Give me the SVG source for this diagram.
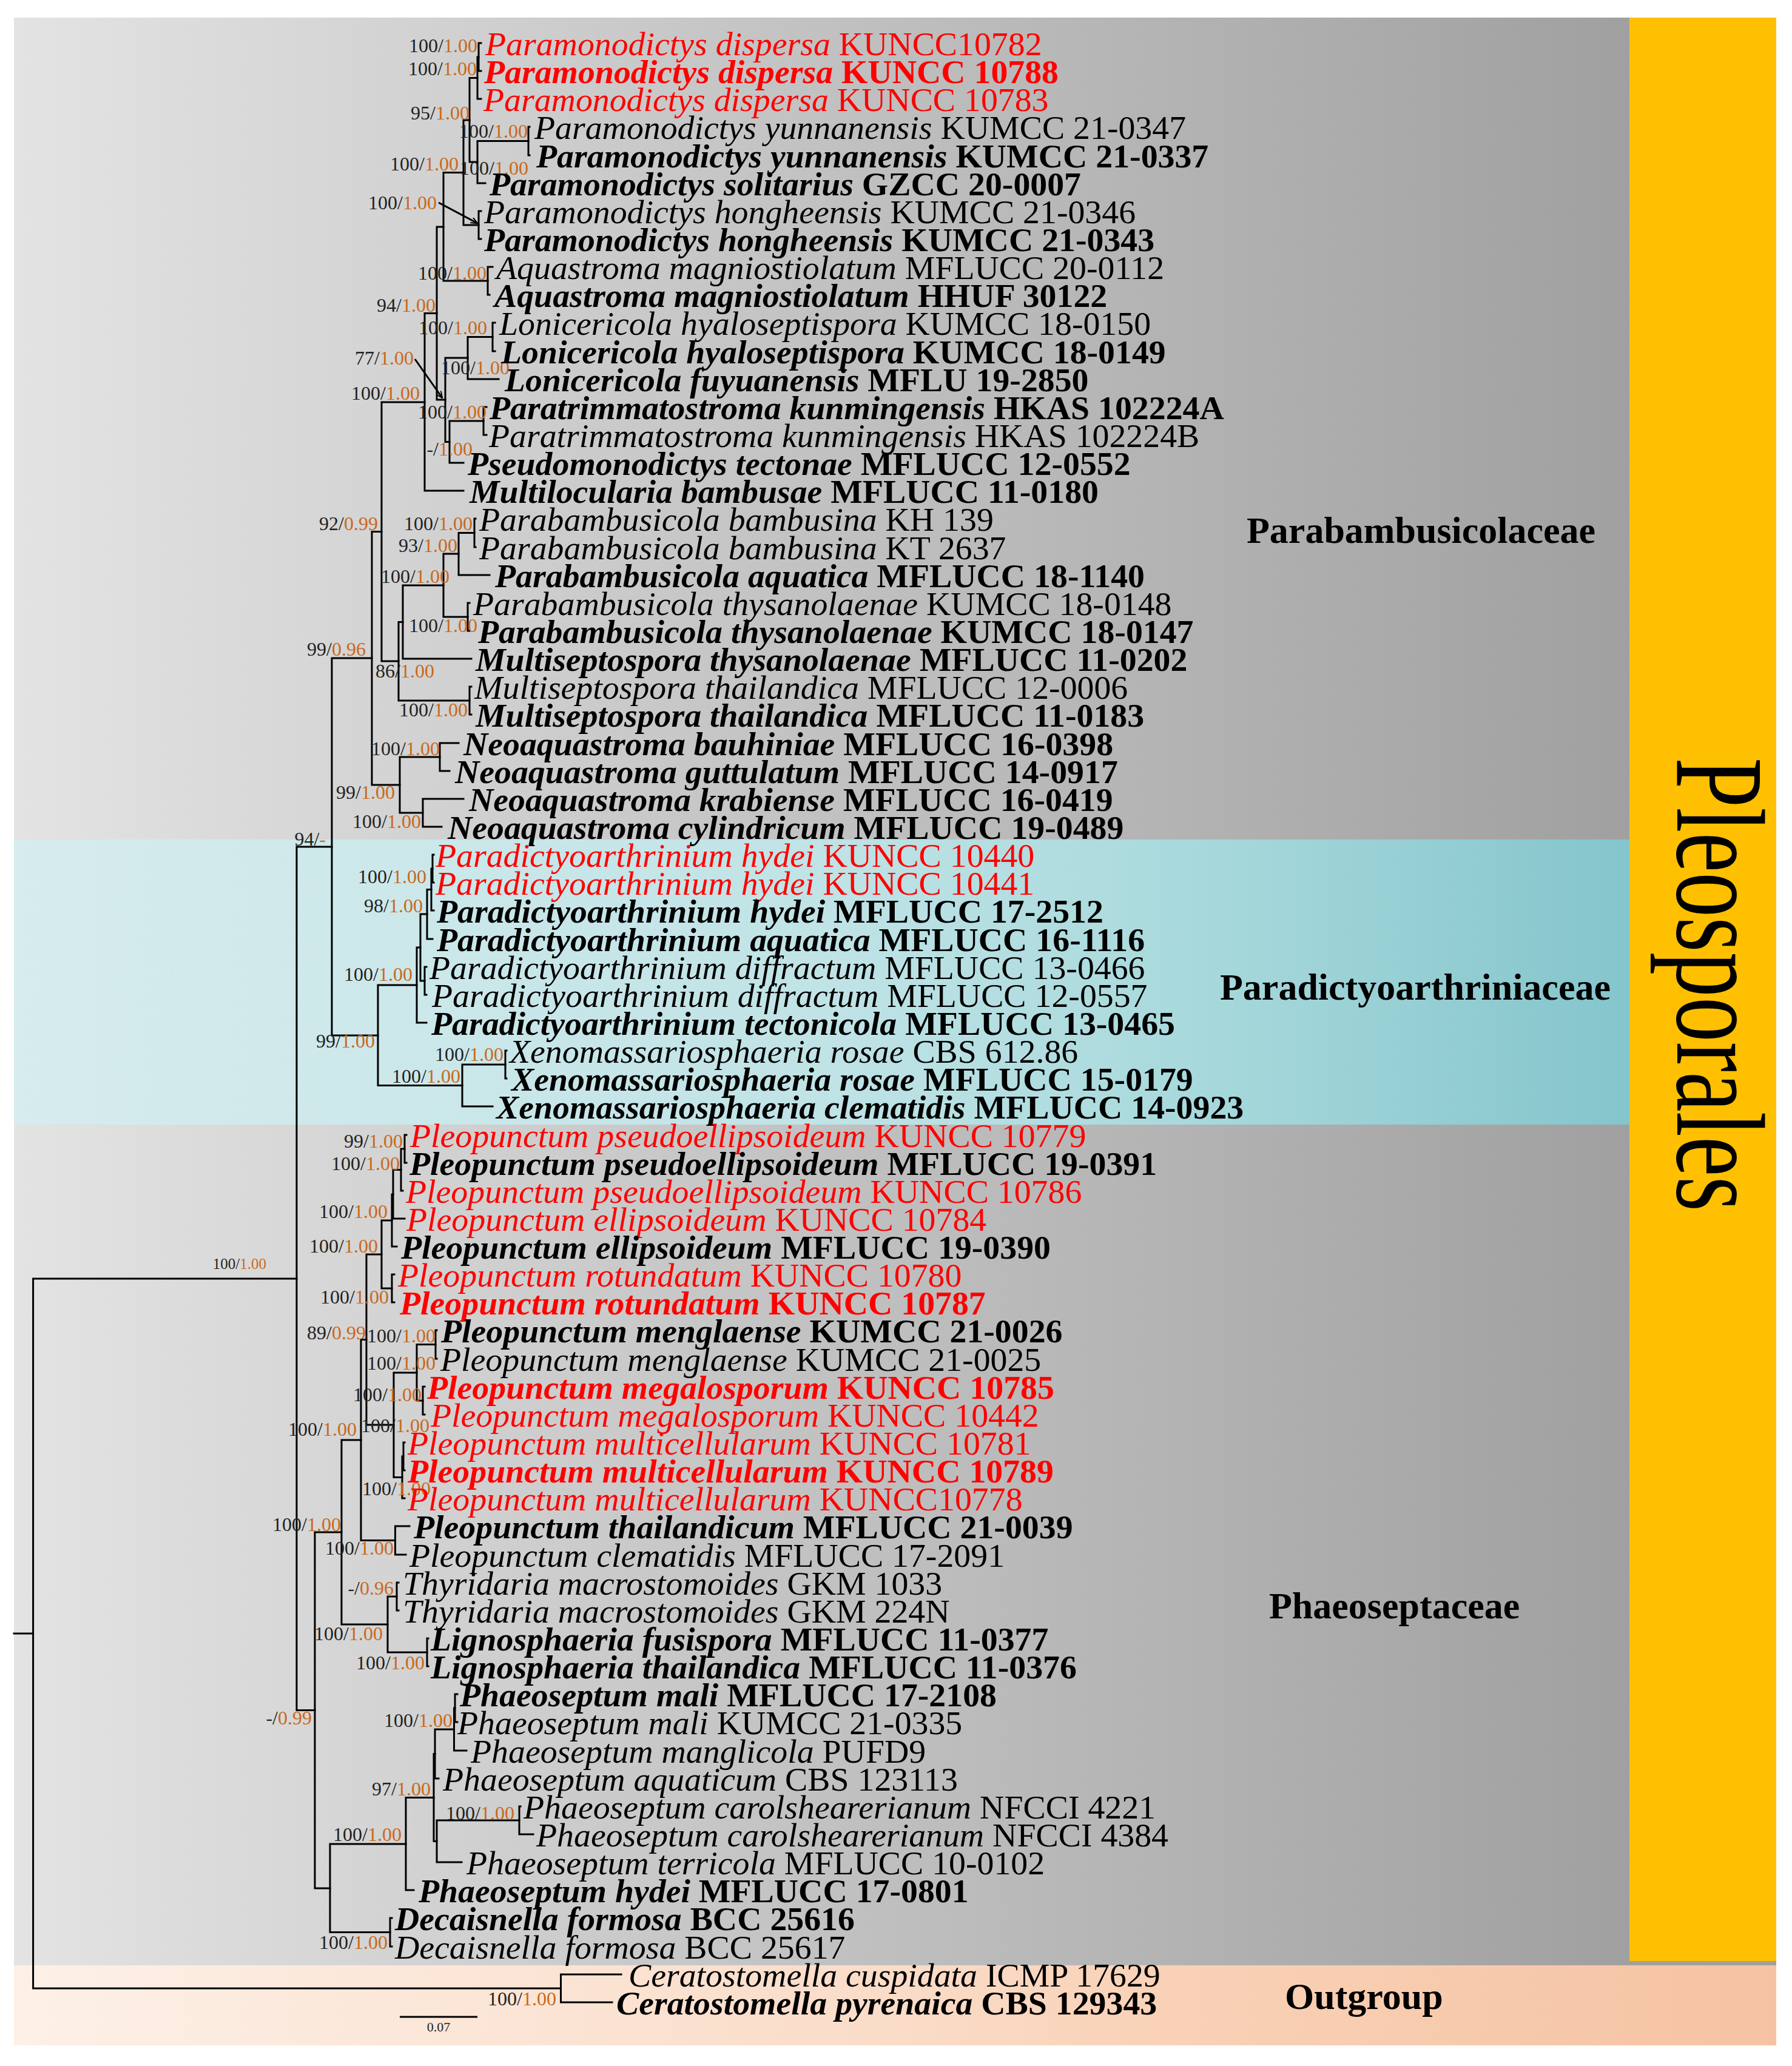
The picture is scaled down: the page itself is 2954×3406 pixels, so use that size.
<svg xmlns="http://www.w3.org/2000/svg" width="2954" height="3406" viewBox="0 0 2954 3406">
<defs>
<linearGradient id="gGray" gradientUnits="userSpaceOnUse" x1="23" y1="0" x2="2686" y2="0"><stop offset="0" stop-color="#e3e3e3"/><stop offset="1" stop-color="#a0a0a0"/></linearGradient>
<linearGradient id="gCyan" gradientUnits="userSpaceOnUse" x1="23" y1="0" x2="2686" y2="0"><stop offset="0" stop-color="#d7ecee"/><stop offset="0.5" stop-color="#c0e3e6"/><stop offset="0.73" stop-color="#a8d9dc"/><stop offset="1" stop-color="#84c5cc"/></linearGradient>
<linearGradient id="gPeach" gradientUnits="userSpaceOnUse" x1="23" y1="0" x2="2928" y2="0"><stop offset="0" stop-color="#fdf0e7"/><stop offset="0.5" stop-color="#fadcc8"/><stop offset="0.66" stop-color="#f9d1b6"/><stop offset="1" stop-color="#f5c3a3"/></linearGradient>
<marker id="arr" viewBox="0 0 12 10" refX="11" refY="5" markerWidth="12" markerHeight="10" markerUnits="userSpaceOnUse" orient="auto"><path d="M0,0 L11,5 L0,10" fill="none" stroke="#000" stroke-width="2"/></marker>
</defs>
<style>
.br{fill:none;stroke:#000;stroke-width:3;stroke-linecap:square}
.tx{font-family:"Liberation Serif","Times New Roman",serif;font-size:55.8px;fill:#000}
.i{font-style:italic}
.b{font-weight:bold}
.r{fill:#ff0000}
.s{font-family:"Liberation Serif","Times New Roman",serif;font-size:32px;fill:#222;text-anchor:end}
.o{fill:#c8691c}
.fam{font-family:"Liberation Serif","Times New Roman",serif;font-size:62px;font-weight:bold;fill:#000}
</style>
<g id="background">
<rect x="23" y="29" width="2905" height="3211" fill="url(#gGray)"/>
<rect x="23" y="1384" width="2663" height="470" fill="url(#gCyan)"/>
<rect x="23" y="3240" width="2905" height="132" fill="url(#gPeach)"/>
<rect x="2686" y="29" width="242" height="3204" fill="#fec000"/>
</g>
<g id="connectors">
<path class="br" d="M54.6 2108V3278M54.6 2108H489M54.6 3278H924.5M23 2693H54.6"/>
<path class="br" d="M924.5 3255V3301M924.5 3255H1024M924.5 3301H1009"/>
<path class="br" d="M489 1396V2819.5M489 1396H547M489 2819.5H519"/>
<path class="br" d="M547 1085V1707M547 1085H613M547 1707H623"/>
<path class="br" d="M613 876.5V1294M613 876.5H629M613 1294H659"/>
<path class="br" d="M629 663V1090M629 663H700M629 1090H657"/>
<path class="br" d="M700 516.5V809M700 516.5H720M700 809H764"/>
<path class="br" d="M720 374V659M720 374H731M720 659H734"/>
<path class="br" d="M731 284.5V463M731 284.5H764M731 463H804"/>
<path class="br" d="M764 198V371M764 198H774M764 371H789"/>
<path class="br" d="M774 128.5V267M774 128.5H787M774 267H787"/>
<path class="br" d="M787 94V163M787 94H789M787 163H793"/>
<path class="br" d="M789 71V117M789 71H793M789 117H793"/>
<path class="br" d="M787 232.5V302M787 232.5H871M787 302H800"/>
<path class="br" d="M871 209V256M871 209H873M871 256H873"/>
<path class="br" d="M789 348V394M789 348H793M789 394H793"/>
<path class="br" d="M804 440V486M804 440H812M804 486H807"/>
<path class="br" d="M734 590V728.5M734 590H771M734 728.5H741"/>
<path class="br" d="M771 555.5V625M771 555.5H812M771 625H822"/>
<path class="br" d="M812 532V579M812 532H816M812 579H816"/>
<path class="br" d="M741 694V763M741 694H797M741 763H764"/>
<path class="br" d="M797 671V717M797 671H802M797 717H802"/>
<path class="br" d="M657 1025.5V1155M657 1025.5H664M657 1155H774"/>
<path class="br" d="M664 965V1086M664 965H731M664 1086H777"/>
<path class="br" d="M731 913V1017M731 913H756M731 1017H771"/>
<path class="br" d="M756 878.5V948M756 878.5H782M756 948H807"/>
<path class="br" d="M782 855V902M782 855H784M782 902H784"/>
<path class="br" d="M771 994V1040M771 994H774M771 1040H774"/>
<path class="br" d="M774 1132V1178M774 1132H777M774 1178H777"/>
<path class="br" d="M659 1248V1340M659 1248H725M659 1340H697"/>
<path class="br" d="M725 1225V1271M725 1225H756M725 1271H741"/>
<path class="br" d="M697 1317V1363M697 1317H764M697 1363H728"/>
<path class="br" d="M623 1624V1789.5M623 1624H687M623 1789.5H762"/>
<path class="br" d="M687 1562V1686M687 1562H693M687 1686H703"/>
<path class="br" d="M693 1507V1617M693 1507H704M693 1617H700"/>
<path class="br" d="M704 1466.5V1548M704 1466.5H711M704 1548H713"/>
<path class="br" d="M711 1432V1501M711 1432H713M711 1501H715"/>
<path class="br" d="M713 1409V1455M713 1409H715M713 1455H715"/>
<path class="br" d="M700 1594V1640M700 1594H703M700 1640H703"/>
<path class="br" d="M762 1755V1824M762 1755H833M762 1824H812"/>
<path class="br" d="M833 1732V1778M833 1732H835M833 1778H835"/>
<path class="br" d="M519 2526V3113M519 2526H563M519 3113H544"/>
<path class="br" d="M563 2374V2678M563 2374H595M563 2678H639"/>
<path class="br" d="M595 2208.5V2539.5M595 2208.5H604M595 2539.5H651.5"/>
<path class="br" d="M604 2068V2349M604 2068H629M604 2349H649"/>
<path class="br" d="M629 2012V2124M629 2012H646M629 2124H646"/>
<path class="br" d="M646 1969V2055M646 1969H648M646 2055H654"/>
<path class="br" d="M648 1928.5V2009M648 1928.5H661M648 2009H667"/>
<path class="br" d="M661 1894V1963M661 1894H667M661 1963H664"/>
<path class="br" d="M667 1871V1917M667 1871H670M667 1917H670"/>
<path class="br" d="M646 2101V2147M646 2101H650M646 2147H650"/>
<path class="br" d="M649 2263V2435.5M649 2263H687M649 2435.5H663"/>
<path class="br" d="M687 2216.5V2309M687 2216.5H718M687 2309H697"/>
<path class="br" d="M718 2193V2240M718 2193H720M718 2240H720"/>
<path class="br" d="M697 2286V2332M697 2286H700M697 2332H700"/>
<path class="br" d="M663 2401V2470M663 2401H665M663 2470H667"/>
<path class="br" d="M665 2378V2424M665 2378H667M665 2424H667"/>
<path class="br" d="M651.5 2516V2563M651.5 2516H675M651.5 2563H669"/>
<path class="br" d="M639 2632V2724M639 2632H654M639 2724H704"/>
<path class="br" d="M654 2609V2655M654 2609H657M654 2655H657"/>
<path class="br" d="M704 2701V2747M704 2701H706M704 2747H706"/>
<path class="br" d="M544 3040V3185.5M544 3040H669M544 3185.5H643"/>
<path class="br" d="M669 2963.5V3116M669 2963.5H715M669 3116H682"/>
<path class="br" d="M715 2891.5V3035.5M715 2891.5H717M715 3035.5H720"/>
<path class="br" d="M717 2851V2932M717 2851H748.5M717 2932H723"/>
<path class="br" d="M748.5 2816V2886M748.5 2816H750M748.5 2886H769"/>
<path class="br" d="M750 2793V2839M750 2793H754M750 2839H754"/>
<path class="br" d="M720 3001V3070M720 3001H856M720 3070H761"/>
<path class="br" d="M856 2978V3024M856 2978H858M856 3024H879"/>
<path class="br" d="M643 3162V3209M643 3162H646M643 3209H646"/>
<line x1="723" y1="334" x2="787" y2="368" stroke="#000" stroke-width="3" marker-end="url(#arr)"/>
<line x1="684" y1="592" x2="729" y2="656" stroke="#000" stroke-width="3" marker-end="url(#arr)"/>
</g>
<g id="support">
<text class="s" x="787" y="86">100/<tspan class="o">1.00</tspan></text>
<text class="s" x="786" y="124">100/<tspan class="o">1.00</tspan></text>
<text class="s" x="774" y="197">95/<tspan class="o">1.00</tspan></text>
<text class="s" x="870" y="227">100/<tspan class="o">1.00</tspan></text>
<text class="s" x="871" y="288">100/<tspan class="o">1.00</tspan></text>
<text class="s" x="756" y="281">100/<tspan class="o">1.00</tspan></text>
<text class="s" x="720" y="345">100/<tspan class="o">1.00</tspan></text>
<text class="s" x="802" y="461">100/<tspan class="o">1.00</tspan></text>
<text class="s" x="718" y="514">94/<tspan class="o">1.00</tspan></text>
<text class="s" x="803" y="551">100/<tspan class="o">1.00</tspan></text>
<text class="s" x="682" y="601">77/<tspan class="o">1.00</tspan></text>
<text class="s" x="840" y="617">100/<tspan class="o">1.00</tspan></text>
<text class="s" x="692" y="659">100/<tspan class="o">1.00</tspan></text>
<text class="s" x="802" y="690">100/<tspan class="o">1.00</tspan></text>
<text class="s" x="779" y="751">-/<tspan class="o">1.00</tspan></text>
<text class="s" x="623" y="874">92/<tspan class="o">0.99</tspan></text>
<text class="s" x="779" y="874">100/<tspan class="o">1.00</tspan></text>
<text class="s" x="754" y="910">93/<tspan class="o">1.00</tspan></text>
<text class="s" x="741" y="961">100/<tspan class="o">1.00</tspan></text>
<text class="s" x="787" y="1042">100/<tspan class="o">1.00</tspan></text>
<text class="s" x="603" y="1081">99/<tspan class="o">0.96</tspan></text>
<text class="s" x="716" y="1117">86/<tspan class="o">1.00</tspan></text>
<text class="s" x="771" y="1181">100/<tspan class="o">1.00</tspan></text>
<text class="s" x="725" y="1245">100/<tspan class="o">1.00</tspan></text>
<text class="s" x="651" y="1317">99/<tspan class="o">1.00</tspan></text>
<text class="s" x="694" y="1365">100/<tspan class="o">1.00</tspan></text>
<text class="s" x="537" y="1394">94/<tspan class="o">-</tspan></text>
<text class="s" x="703" y="1456">100/<tspan class="o">1.00</tspan></text>
<text class="s" x="697" y="1504">98/<tspan class="o">1.00</tspan></text>
<text class="s" x="680" y="1617">100/<tspan class="o">1.00</tspan></text>
<text class="s" x="618" y="1727">99/<tspan class="o">1.00</tspan></text>
<text class="s" x="830" y="1749">100/<tspan class="o">1.00</tspan></text>
<text class="s" x="759" y="1785">100/<tspan class="o">1.00</tspan></text>
<text class="s" x="664" y="1892">99/<tspan class="o">1.00</tspan></text>
<text class="s" x="659" y="1929">100/<tspan class="o">1.00</tspan></text>
<text class="s" x="639" y="2008">100/<tspan class="o">1.00</tspan></text>
<text class="s" x="623" y="2065">100/<tspan class="o">1.00</tspan></text>
<text class="s" x="641" y="2149">100/<tspan class="o">1.00</tspan></text>
<text class="s" x="603" y="2208">89/<tspan class="o">0.99</tspan></text>
<text class="s" x="718" y="2213">100/<tspan class="o">1.00</tspan></text>
<text class="s" x="718" y="2258">100/<tspan class="o">1.00</tspan></text>
<text class="s" x="695" y="2310">100/<tspan class="o">1.00</tspan></text>
<text class="s" x="708" y="2361">100/<tspan class="o">1.00</tspan></text>
<text class="s" x="588" y="2367">100/<tspan class="o">1.00</tspan></text>
<text class="s" x="710" y="2465">100/<tspan class="o">1.00</tspan></text>
<text class="s" x="562" y="2524">100/<tspan class="o">1.00</tspan></text>
<text class="s" x="649" y="2563">100/<tspan class="o">1.00</tspan></text>
<text class="s" x="649" y="2629">-/<tspan class="o">0.96</tspan></text>
<text class="s" x="631" y="2704">100/<tspan class="o">1.00</tspan></text>
<text class="s" x="700" y="2752">100/<tspan class="o">1.00</tspan></text>
<text class="s" x="746" y="2847">100/<tspan class="o">1.00</tspan></text>
<text class="s" x="710" y="2960">97/<tspan class="o">1.00</tspan></text>
<text class="s" x="848" y="3000">100/<tspan class="o">1.00</tspan></text>
<text class="s" x="662" y="3035">100/<tspan class="o">1.00</tspan></text>
<text class="s" x="639" y="3213">100/<tspan class="o">1.00</tspan></text>
<text class="s" x="917" y="3306">100/<tspan class="o">1.00</tspan></text>
<text class="s" x="439" y="2092" style="font-size:25px">100/<tspan class="o">1.00</tspan></text>
<text class="s" x="514" y="2843">-/<tspan class="o">0.99</tspan></text>
</g>
<g id="taxa">
<g id="taxon-1"><text class="tx r" x="800" y="91"><tspan class="i">Paramonodictys dispersa</tspan> KUNCC10782</text></g>
<g id="taxon-2"><text class="tx r b" x="798" y="137"><tspan class="i">Paramonodictys dispersa</tspan> KUNCC 10788</text></g>
<g id="taxon-3"><text class="tx r" x="797" y="183"><tspan class="i">Paramonodictys dispersa</tspan> KUNCC 10783</text></g>
<g id="taxon-4"><text class="tx" x="881" y="229"><tspan class="i">Paramonodictys yunnanensis</tspan> KUMCC 21-0347</text></g>
<g id="taxon-5"><text class="tx b" x="884" y="276"><tspan class="i">Paramonodictys yunnanensis</tspan> KUMCC 21-0337</text></g>
<g id="taxon-6"><text class="tx b" x="807" y="322"><tspan class="i">Paramonodictys solitarius</tspan> GZCC 20-0007</text></g>
<g id="taxon-7"><text class="tx" x="798" y="368"><tspan class="i">Paramonodictys hongheensis</tspan> KUMCC 21-0346</text></g>
<g id="taxon-8"><text class="tx b" x="798" y="414"><tspan class="i">Paramonodictys hongheensis</tspan> KUMCC 21-0343</text></g>
<g id="taxon-9"><text class="tx" x="818" y="460"><tspan class="i">Aquastroma magniostiolatum</tspan> MFLUCC 20-0112</text></g>
<g id="taxon-10"><text class="tx b" x="815" y="506"><tspan class="i">Aquastroma magniostiolatum</tspan> HHUF 30122</text></g>
<g id="taxon-11"><text class="tx" x="823" y="552"><tspan class="i">Lonicericola hyaloseptispora</tspan> KUMCC 18-0150</text></g>
<g id="taxon-12"><text class="tx b" x="826" y="599"><tspan class="i">Lonicericola hyaloseptispora</tspan> KUMCC 18-0149</text></g>
<g id="taxon-13"><text class="tx b" x="832" y="645"><tspan class="i">Lonicericola fuyuanensis</tspan> MFLU 19-2850</text></g>
<g id="taxon-14"><text class="tx b" x="807" y="691"><tspan class="i">Paratrimmatostroma kunmingensis</tspan> HKAS 102224A</text></g>
<g id="taxon-15"><text class="tx" x="806" y="737"><tspan class="i">Paratrimmatostroma kunmingensis</tspan> HKAS 102224B</text></g>
<g id="taxon-16"><text class="tx b" x="771" y="783"><tspan class="i">Pseudomonodictys tectonae</tspan> MFLUCC 12-0552</text></g>
<g id="taxon-17"><text class="tx b" x="774" y="829"><tspan class="i">Multilocularia bambusae</tspan> MFLUCC 11-0180</text></g>
<g id="taxon-18"><text class="tx" x="790" y="875"><tspan class="i">Parabambusicola bambusina</tspan> KH 139</text></g>
<g id="taxon-19"><text class="tx" x="790" y="922"><tspan class="i">Parabambusicola bambusina</tspan> KT 2637</text></g>
<g id="taxon-20"><text class="tx b" x="816" y="968"><tspan class="i">Parabambusicola aquatica</tspan> MFLUCC 18-1140</text></g>
<g id="taxon-21"><text class="tx" x="780" y="1014"><tspan class="i">Parabambusicola thysanolaenae</tspan> KUMCC 18-0148</text></g>
<g id="taxon-22"><text class="tx b" x="788" y="1060"><tspan class="i">Parabambusicola thysanolaenae</tspan> KUMCC 18-0147</text></g>
<g id="taxon-23"><text class="tx b" x="784" y="1106"><tspan class="i">Multiseptospora thysanolaenae</tspan> MFLUCC 11-0202</text></g>
<g id="taxon-24"><text class="tx" x="782" y="1152"><tspan class="i">Multiseptospora thailandica</tspan> MFLUCC 12-0006</text></g>
<g id="taxon-25"><text class="tx b" x="784" y="1198"><tspan class="i">Multiseptospora thailandica</tspan> MFLUCC 11-0183</text></g>
<g id="taxon-26"><text class="tx b" x="764" y="1245"><tspan class="i">Neoaquastroma bauhiniae</tspan> MFLUCC 16-0398</text></g>
<g id="taxon-27"><text class="tx b" x="750" y="1291"><tspan class="i">Neoaquastroma guttulatum</tspan> MFLUCC 14-0917</text></g>
<g id="taxon-28"><text class="tx b" x="773" y="1337"><tspan class="i">Neoaquastroma krabiense</tspan> MFLUCC 16-0419</text></g>
<g id="taxon-29"><text class="tx b" x="738" y="1383"><tspan class="i">Neoaquastroma cylindricum</tspan> MFLUCC 19-0489</text></g>
<g id="taxon-30"><text class="tx r" x="718" y="1429"><tspan class="i">Paradictyoarthrinium hydei</tspan> KUNCC 10440</text></g>
<g id="taxon-31"><text class="tx r" x="718" y="1475"><tspan class="i">Paradictyoarthrinium hydei</tspan> KUNCC 10441</text></g>
<g id="taxon-32"><text class="tx b" x="720" y="1521"><tspan class="i">Paradictyoarthrinium hydei</tspan> MFLUCC 17-2512</text></g>
<g id="taxon-33"><text class="tx b" x="720" y="1568"><tspan class="i">Paradictyoarthrinium aquatica</tspan> MFLUCC 16-1116</text></g>
<g id="taxon-34"><text class="tx" x="708" y="1614"><tspan class="i">Paradictyoarthrinium diffractum</tspan> MFLUCC 13-0466</text></g>
<g id="taxon-35"><text class="tx" x="712" y="1660"><tspan class="i">Paradictyoarthrinium diffractum</tspan> MFLUCC 12-0557</text></g>
<g id="taxon-36"><text class="tx b" x="711" y="1706"><tspan class="i">Paradictyoarthrinium tectonicola</tspan> MFLUCC 13-0465</text></g>
<g id="taxon-37"><text class="tx" x="840" y="1752"><tspan class="i">Xenomassariosphaeria rosae</tspan> CBS 612.86</text></g>
<g id="taxon-38"><text class="tx b" x="843" y="1798"><tspan class="i">Xenomassariosphaeria rosae</tspan> MFLUCC 15-0179</text></g>
<g id="taxon-39"><text class="tx b" x="818" y="1844"><tspan class="i">Xenomassariosphaeria clematidis</tspan> MFLUCC 14-0923</text></g>
<g id="taxon-40"><text class="tx r" x="676" y="1891"><tspan class="i">Pleopunctum pseudoellipsoideum</tspan> KUNCC 10779</text></g>
<g id="taxon-41"><text class="tx b" x="675" y="1937"><tspan class="i">Pleopunctum pseudoellipsoideum</tspan> MFLUCC 19-0391</text></g>
<g id="taxon-42"><text class="tx r" x="669" y="1983"><tspan class="i">Pleopunctum pseudoellipsoideum</tspan> KUNCC 10786</text></g>
<g id="taxon-43"><text class="tx r" x="670" y="2029"><tspan class="i">Pleopunctum ellipsoideum</tspan> KUNCC 10784</text></g>
<g id="taxon-44"><text class="tx b" x="661" y="2075"><tspan class="i">Pleopunctum ellipsoideum</tspan> MFLUCC 19-0390</text></g>
<g id="taxon-45"><text class="tx r" x="656" y="2121"><tspan class="i">Pleopunctum rotundatum</tspan> KUNCC 10780</text></g>
<g id="taxon-46"><text class="tx r b" x="659" y="2167"><tspan class="i">Pleopunctum rotundatum</tspan> KUNCC 10787</text></g>
<g id="taxon-47"><text class="tx b" x="727" y="2213"><tspan class="i">Pleopunctum menglaense</tspan> KUMCC 21-0026</text></g>
<g id="taxon-48"><text class="tx" x="726" y="2260"><tspan class="i">Pleopunctum menglaense</tspan> KUMCC 21-0025</text></g>
<g id="taxon-49"><text class="tx r b" x="704" y="2306"><tspan class="i">Pleopunctum megalosporum</tspan> KUNCC 10785</text></g>
<g id="taxon-50"><text class="tx r" x="710" y="2352"><tspan class="i">Pleopunctum megalosporum</tspan> KUNCC 10442</text></g>
<g id="taxon-51"><text class="tx r" x="672" y="2398"><tspan class="i">Pleopunctum multicellularum</tspan> KUNCC 10781</text></g>
<g id="taxon-52"><text class="tx r b" x="672" y="2444"><tspan class="i">Pleopunctum multicellularum</tspan> KUNCC 10789</text></g>
<g id="taxon-53"><text class="tx r" x="672" y="2490"><tspan class="i">Pleopunctum multicellularum</tspan> KUNCC10778</text></g>
<g id="taxon-54"><text class="tx b" x="682" y="2536"><tspan class="i">Pleopunctum thailandicum</tspan> MFLUCC 21-0039</text></g>
<g id="taxon-55"><text class="tx" x="675" y="2583"><tspan class="i">Pleopunctum clematidis</tspan> MFLUCC 17-2091</text></g>
<g id="taxon-56"><text class="tx" x="664" y="2629"><tspan class="i">Thyridaria macrostomoides</tspan> GKM 1033</text></g>
<g id="taxon-57"><text class="tx" x="664" y="2675"><tspan class="i">Thyridaria macrostomoides</tspan> GKM 224N</text></g>
<g id="taxon-58"><text class="tx b" x="710" y="2721"><tspan class="i">Lignosphaeria fusispora</tspan> MFLUCC 11-0377</text></g>
<g id="taxon-59"><text class="tx b" x="710" y="2767"><tspan class="i">Lignosphaeria thailandica</tspan> MFLUCC 11-0376</text></g>
<g id="taxon-60"><text class="tx b" x="758" y="2813"><tspan class="i">Phaeoseptum mali</tspan> MFLUCC 17-2108</text></g>
<g id="taxon-61"><text class="tx" x="754" y="2859"><tspan class="i">Phaeoseptum mali</tspan> KUMCC 21-0335</text></g>
<g id="taxon-62"><text class="tx" x="776" y="2906"><tspan class="i">Phaeoseptum manglicola</tspan> PUFD9</text></g>
<g id="taxon-63"><text class="tx" x="730" y="2952"><tspan class="i">Phaeoseptum aquaticum</tspan> CBS 123113</text></g>
<g id="taxon-64"><text class="tx" x="863" y="2998"><tspan class="i">Phaeoseptum carolshearerianum</tspan> NFCCI 4221</text></g>
<g id="taxon-65"><text class="tx" x="884" y="3044"><tspan class="i">Phaeoseptum carolshearerianum</tspan> NFCCI 4384</text></g>
<g id="taxon-66"><text class="tx" x="769" y="3090"><tspan class="i">Phaeoseptum terricola</tspan> MFLUCC 10-0102</text></g>
<g id="taxon-67"><text class="tx b" x="690" y="3136"><tspan class="i">Phaeoseptum hydei</tspan> MFLUCC 17-0801</text></g>
<g id="taxon-68"><text class="tx b" x="651" y="3182"><tspan class="i">Decaisnella formosa</tspan> BCC 25616</text></g>
<g id="taxon-69"><text class="tx" x="651" y="3229"><tspan class="i">Decaisnella formosa</tspan> BCC 25617</text></g>
<g id="taxon-70"><text class="tx" x="1036" y="3275"><tspan class="i">Ceratostomella cuspidata</tspan> ICMP 17629</text></g>
<g id="taxon-71"><text class="tx b" x="1016" y="3321"><tspan class="i">Ceratostomella pyrenaica</tspan> CBS 129343</text></g>
</g>
<g id="families">
<text class="fam" x="2055" y="895">Parabambusicolaceae</text>
<text class="fam" x="2011" y="1648">Paradictyoarthriniaceae</text>
<text class="fam" x="2092" y="2668">Phaeoseptaceae</text>
<text class="fam" x="2118" y="3312">Outgroup</text>
</g>
<g id="order">
<text transform="translate(2765,1249) rotate(90) scale(1,1.4)" x="0" y="0" style="font-family:'Liberation Serif','Times New Roman',serif;font-size:148px;fill:#000">Pleosporales</text>
</g>
<g id="scalebar">
<path d="M659 3325H787" stroke="#000" stroke-width="3"/>
<text x="723" y="3349" text-anchor="middle" style="font-family:'Liberation Serif','Times New Roman',serif;font-size:22px;fill:#222">0.07</text>
</g>
</svg>
